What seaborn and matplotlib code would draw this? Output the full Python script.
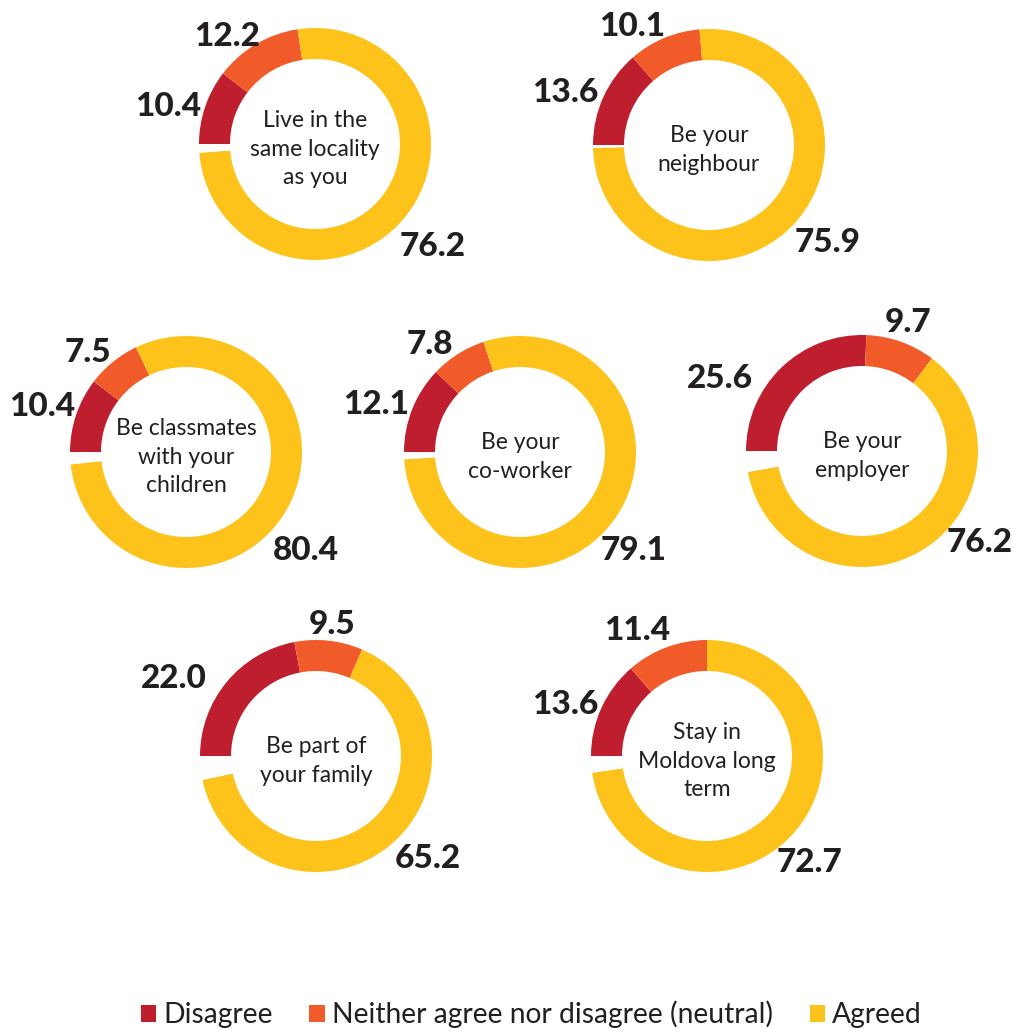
import matplotlib
matplotlib.use("Agg")
import matplotlib.pyplot as plt
from matplotlib.patches import Patch
import seaborn as sns

# ── Data ──────────────────────────────────────────────────────────────────────
statements = ["Live in the\nsame locality\nas you", "Be your\nneighbour",
              "Be classmates\nwith your\nchildren", "Be your\nco-worker",
              "Be your\nemployer", "Be part of\nyour family",
              "Stay in\nMoldova long\nterm"]
disagree  = [10.4, 13.6, 10.4, 12.1, 25.6, 22.0, 13.6]
neutral   = [12.2, 10.1, 7.5, 7.8, 9.7, 9.5, 11.4]
agreed    = [76.2, 75.9, 80.4, 79.1, 76.2, 65.2, 72.7]
# share left blank in each ring (no answer)
no_answer = [1.2, 0.4, 1.7, 1.0, 2.9, 3.3, 2.3]

legend_labels = ["Disagree", "Neither agree nor disagree (neutral)", "Agreed"]
colors = ["#BE1E2D", "#F15A29", "#FDC31B"]
TEXT = "#231F20"

# ── Layout (pixel coords, y from top) ─────────────────────────────────────────
W, H = 1018, 1032
centers = [(315, 144), (709, 145), (186, 452), (520, 452), (862, 451),
           (316, 756), (707, 756)]
R, RING = 116, 31
# label anchors: (disagree, neutral, agreed)
label_pos = [
    [(168, 106), (227, 37), (433, 246)],
    [(565, 92), (632, 27), (828, 242)],
    [(42, 407), (88, 352), (306, 551)],
    [(376, 404), (430, 344), (634, 551)],
    [(720, 379), (908, 323), (980, 543)],
    [(174, 679), (332, 625), (428, 859)],
    [(565, 705), (637, 631), (810, 862)],
]

sns.set_theme(style="white")
plt.rcParams["font.family"] = ["Lato", "DejaVu Sans"]

fig = plt.figure(figsize=(W / 100, H / 100), dpi=100)
ax = fig.add_axes([0, 0, 1, 1])

for i, (cx, cy) in enumerate(centers):
    # arc for "agreed" is what is left of the circle after the other parts
    agreed_arc = max(100 - disagree[i] - neutral[i] - no_answer[i], 0)
    vals = [disagree[i], neutral[i], agreed_arc, no_answer[i]]
    ax.pie(vals, colors=colors + ["white"], startangle=180, counterclock=False,
           center=(cx, H - cy), radius=R, frame=True,
           wedgeprops=dict(width=RING, edgecolor="white", linewidth=0))
    ax.text(cx, H - cy - 5, statements[i], ha="center", va="center",
            fontsize=16.5, color=TEXT, linespacing=1.45)
    for (lx, ly), v in zip(label_pos[i], [disagree[i], neutral[i], agreed[i]]):
        ax.text(lx, H - ly, f"{v:.1f}", ha="center", va="center",
                fontsize=24, fontweight="black", color=TEXT)

ax.set_xlim(0, W)
ax.set_ylim(0, H)
ax.set_aspect("equal")
ax.axis("off")

handles = [Patch(facecolor=c, edgecolor="none") for c in colors]
fig.legend(handles, legend_labels, loc="lower center", bbox_to_anchor=(0.522, -0.021),
           ncol=3, frameon=False, prop={"size": 20.3},
           handlelength=0.55, handleheight=0.55, handletextpad=0.25,
           columnspacing=1.3, labelcolor=TEXT)

fig.savefig("out.png", dpi=100, facecolor="white")
